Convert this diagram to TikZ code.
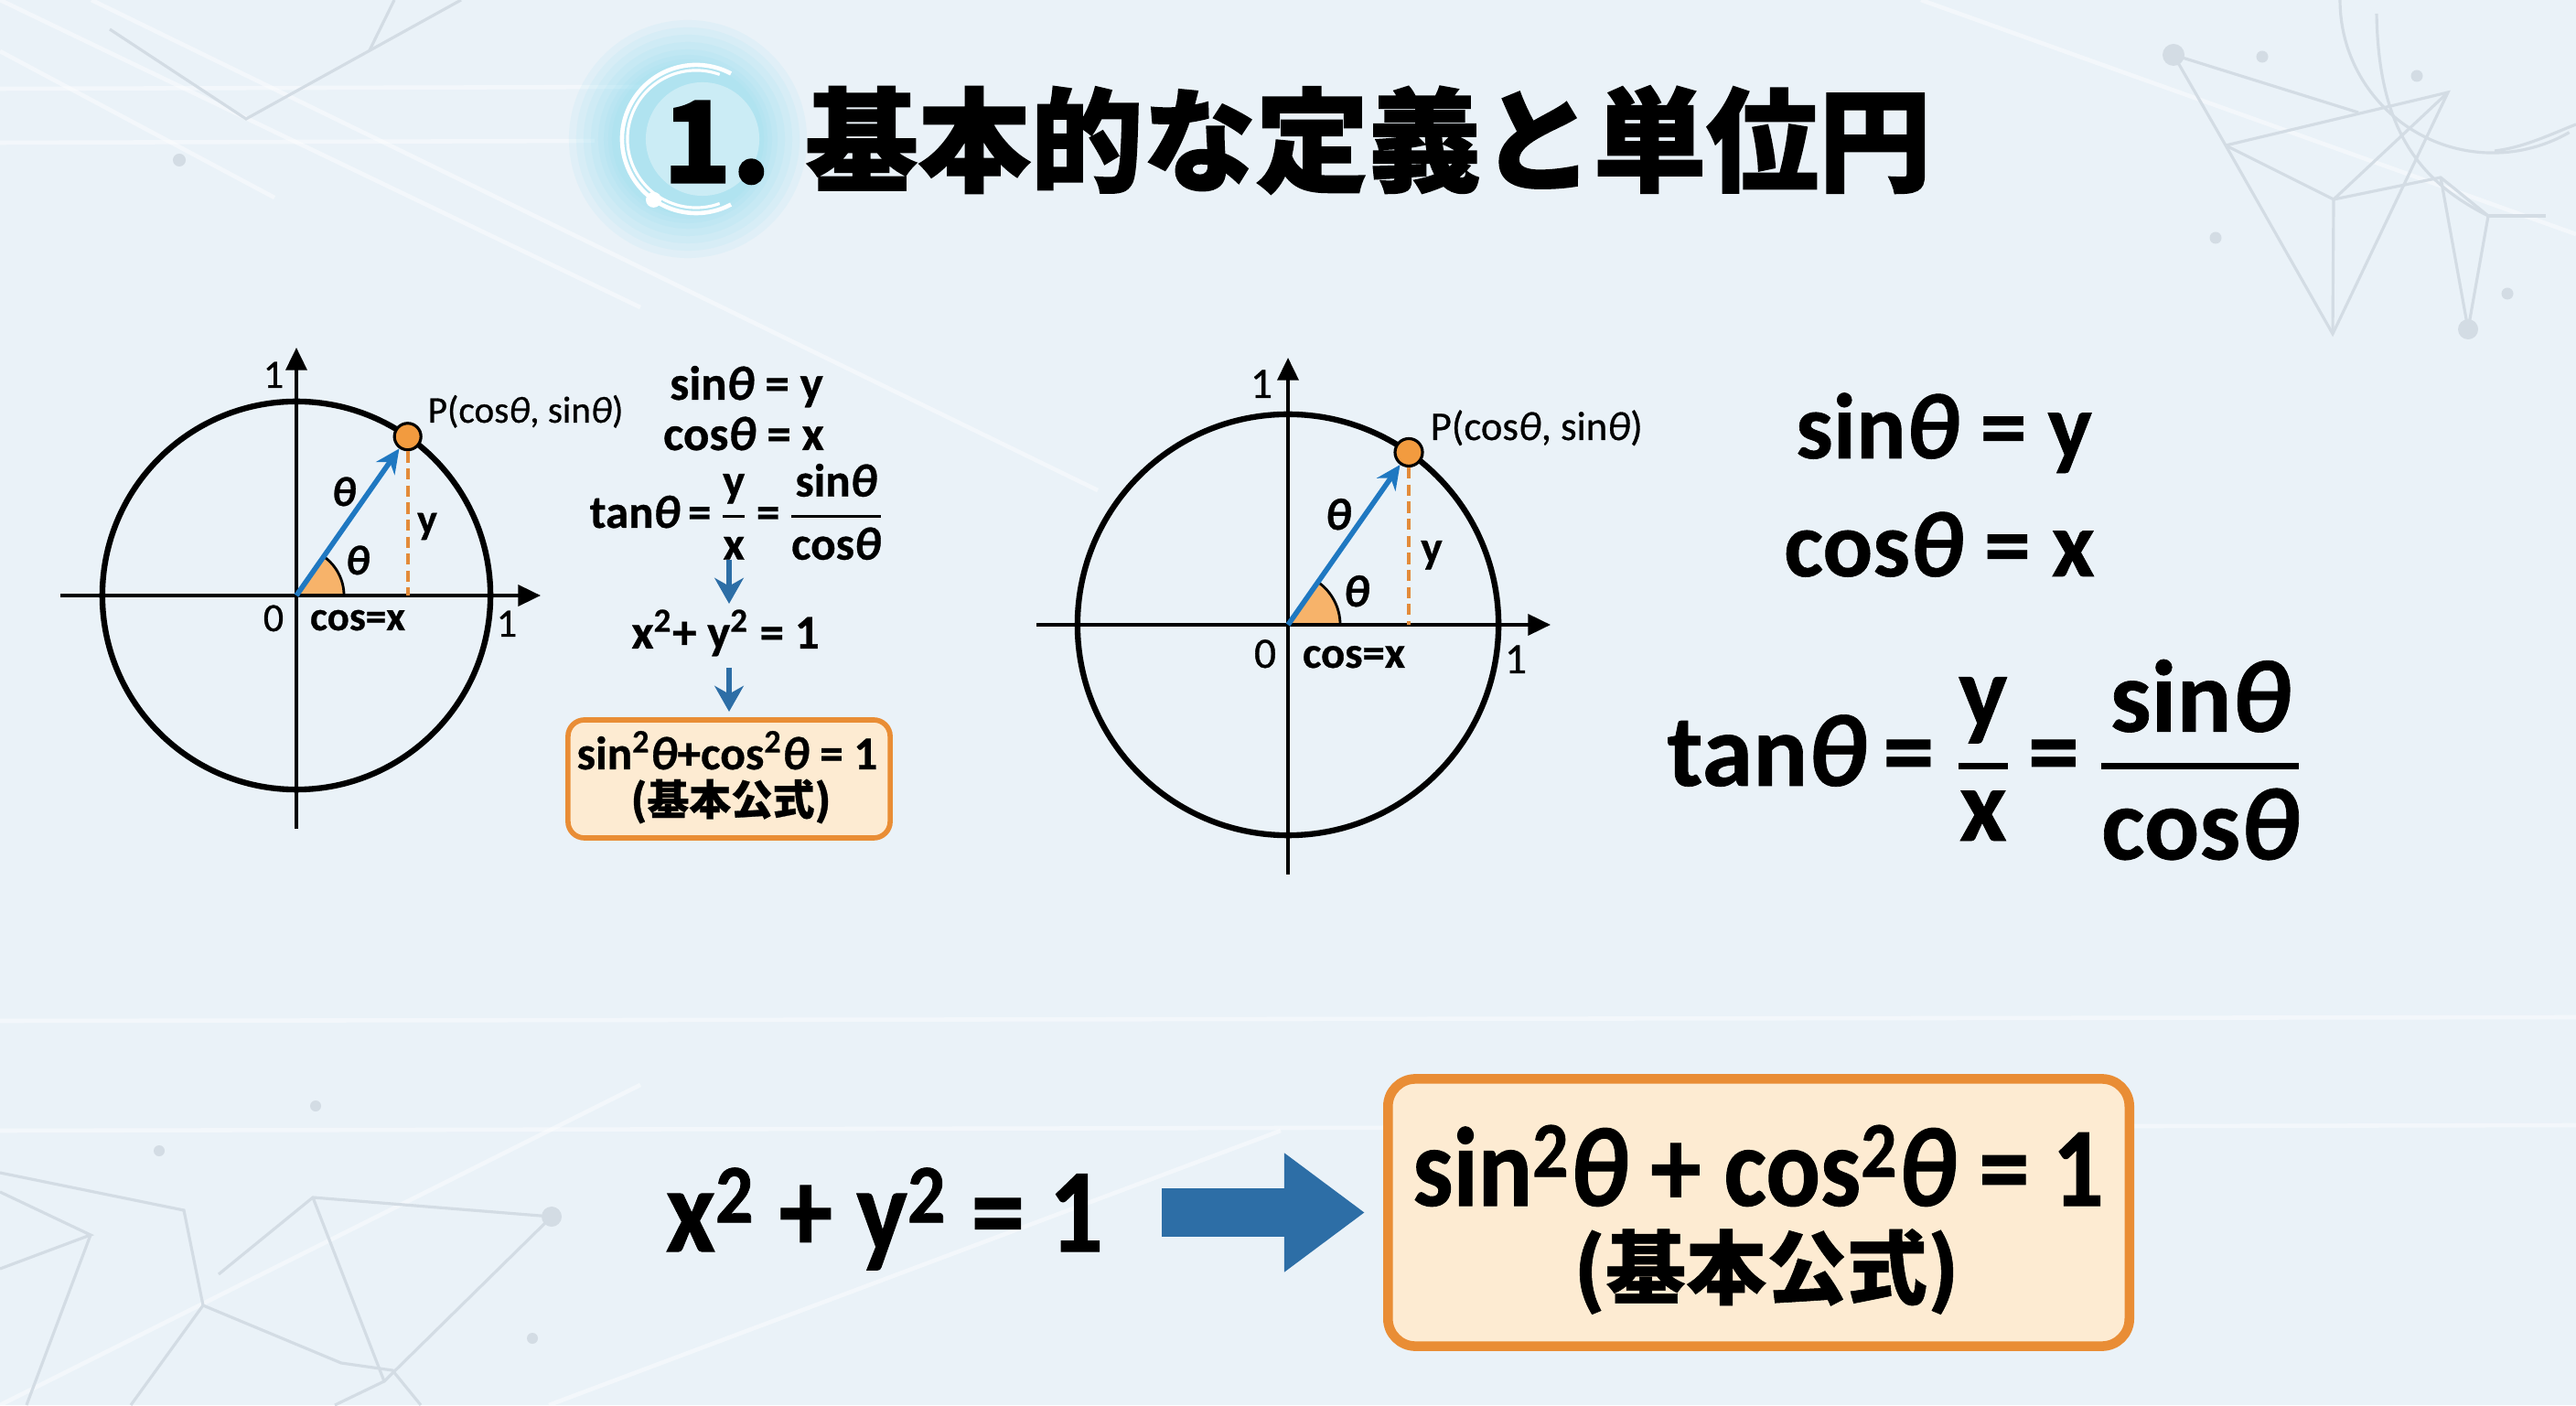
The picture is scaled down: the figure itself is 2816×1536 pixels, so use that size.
\documentclass[tikz,border=0pt]{standalone}
\usepackage{fontspec}
\setmainfont{Carlito}[BoldFeatures={FakeBold=0.6}, BoldItalicFeatures={FakeBold=0.6}]
\newfontfamily\cond{Carlito}[FakeStretch=0.9, BoldFeatures={FakeBold=0.8}, BoldItalicFeatures={FakeBold=0.8}]
\newfontfamily\semib{Carlito}[UprightFeatures={FakeBold=0.7}, ItalicFeatures={FakeBold=0.7}]
\newfontfamily\jp{Noto Sans CJK JP}[BoldFeatures={FakeBold=0.6}]
\newfontfamily\jpt{Noto Sans CJK JP}[BoldFeatures={FakeBold=1.4}]
\usetikzlibrary{arrows.meta}
\definecolor{bgc}{HTML}{EAF2F8}
\definecolor{deco}{HTML}{D3DCE4}
\definecolor{vecblue}{HTML}{1F78C1}
\definecolor{arrblue}{HTML}{2D6EA6}
\definecolor{dotor}{HTML}{F29B3F}
\definecolor{wedgeor}{HTML}{F7B36A}
\definecolor{dashor}{HTML}{E38B3A}
\definecolor{boxfill}{HTML}{FDEBD2}
\definecolor{boxdraw}{HTML}{E98D35}
\definecolor{glowc}{HTML}{8FDDF0}
\newcommand\tht{\textit{θ}}
\newcommand\sq{\textsuperscript{2}}
\newcommand\ffrac[3]{$\displaystyle{\hbox{#2}\above#1\hbox{#3}}$}
\tikzset{
  axis/.style={line width=1.1pt, -{Triangle[length=7pt,width=6.5pt]}},
  ucirc/.style={line width=1.8pt},
  vec/.style={vecblue, line width=1.6pt, -{Stealth[length=7.5pt,width=7pt]}},
  pdot/.style={circle, draw=black, line width=0.9pt, fill=dotor, inner sep=0pt, minimum size=0.29cm},
  dsh/.style={dashor, line width=1.1pt, dash pattern=on 3.5pt off 1.8pt},
  wedgefill/.style={fill=wedgeor},
  lab/.style={inner sep=0pt, anchor=base},
  sform/.style={font=\bfseries\fontsize{15}{18}\selectfont, inner sep=0pt, anchor=base},
  bform/.style={font=\bfseries\fontsize{29}{34}\selectfont, inner sep=0pt, anchor=base},
  downarr/.style={arrblue, line width=1.8pt, -{Stealth[length=8pt,width=9pt,inset=2.5pt]}},
  bigarr/.style={arrblue, line width=0.53cm, -{Triangle[length=0.88cm,width=1.24cm]}},
  sbox/.style={draw=boxdraw, fill=boxfill, line width=1.6pt, rounded corners=0.18cm, minimum width=3.52cm, minimum height=1.29cm, inner sep=0pt},
  bbox/.style={draw=boxdraw, fill=boxfill, line width=3pt, rounded corners=0.3cm, minimum width=8.1cm, minimum height=2.92cm, inner sep=0pt},
  decol/.style={deco, line width=0.9pt},
  decod/.style={fill=deco},
  streak/.style={white, opacity=0.45, line width=1.3pt}
}
\begin{document}
\begin{tikzpicture}[x=0.01cm,y=0.01cm]
\useasboundingbox (0,0) rectangle (2816,1536);
\fill[bgc] (0,0) rectangle (2816,1536);
% faint streaks
\draw[streak] (0,1439) -- (700,1441);
\draw[streak] (0,1380) -- (650,1382);
\draw[streak] (0,300) -- (2816,306);
\draw[streak] (0,420) -- (2816,424);
\draw[streak] (0,1536) -- (700,1200);
\draw[streak] (100,1536) -- (1200,1000);
\draw[streak] (2100,1536) -- (2816,1280);
\draw[streak] (0,1480) -- (300,1320);
\draw[streak] (0,0) -- (700,350);
\draw[streak] (600,0) -- (1400,300);
% top-left deco
\draw[decol] (120,1504) -- (269,1406) -- (504,1536);
\draw[decol] (404,1481) -- (431,1536);
\fill[decod] (196,1361) circle[radius=0.07cm];
% top-right deco
\draw[decol] (2376,1476) -- (2433,1377) -- (2550,1171) -- (2676,1435) -- (2433,1377);
\draw[decol] (2376,1476) -- (2578,1413);
\draw[decol] (2433,1377) -- (2551,1318) -- (2676,1435);
\draw[decol] (2551,1318) -- (2668,1342) -- (2720,1300) -- (2698,1176) -- (2668,1342);
\draw[decol] (2551,1318) -- (2550,1171);
\draw[decol] (2720,1300) -- (2783,1300);
\draw[decol] (2558,1536) arc[start angle=180, end angle=300, radius=1.67cm];
\draw[decol] (2598,1521) .. controls (2600,1400) and (2640,1340) .. (2720,1300);
\draw[decol] (2727,1371) .. controls (2760,1375) and (2790,1390) .. (2816,1400);
\fill[decod] (2376,1476) circle[radius=0.12cm];
\fill[decod] (2698,1176) circle[radius=0.11cm];
\fill[decod] (2473,1474) circle[radius=0.065cm];
\fill[decod] (2642,1453) circle[radius=0.065cm];
\fill[decod] (2422,1276) circle[radius=0.065cm];
\fill[decod] (2741,1215) circle[radius=0.065cm];
% bottom-left deco
\draw[decol] (0,254) -- (201,213) -- (222,109) -- (373,46) -- (429,38) -- (460,0);
\draw[decol] (0,233) -- (99,186) -- (0,149);
\draw[decol] (99,186) -- (29,0);
\draw[decol] (222,109) -- (143,0);
\draw[decol] (239,143) -- (342,227) -- (603,206) -- (420,26) -- (366,0);
\draw[decol] (342,227) -- (420,26);
\fill[decod] (603,206) circle[radius=0.11cm];
\fill[decod] (345,327) circle[radius=0.06cm];
\fill[decod] (174,278) circle[radius=0.06cm];
\fill[decod] (582,73) circle[radius=0.06cm];
% title glow
\foreach \r in {1.30,1.22,1.14,1.06,0.98,0.92,0.87,0.83}
  \fill[glowc, opacity=0.11] (752,1384) circle[radius=\r cm];
\fill[white, opacity=0.35] (768,1384) circle[radius=0.62cm];
\draw[white, line width=1.3pt] (761,1384) ++(62:0.81cm) arc[start angle=62, end angle=298, radius=0.81cm];
\draw[white, line width=0.9pt] (761,1384) ++(70:0.75cm) arc[start angle=70, end angle=290, radius=0.75cm];
\fill[white] (761,1384) ++(235:0.81cm) circle[radius=0.085cm];
\node[font=\jpt\bfseries\fontsize{35}{40}\selectfont, inner sep=0pt] (title) at (1418,1383) {1. 基本的な定義と単位円};

% ===== left unit circle =====
\coordinate (O1) at (324,885);
\path (O1) ++(55:2.12cm) coordinate (P1);
\coordinate (F1) at (P1 |- O1);
\fill[wedgefill] (O1) -- ++(0:0.52cm) arc[start angle=0, end angle=55, radius=0.52cm] -- cycle;
\draw[line width=0.8pt] (O1) ++(0:0.52cm) arc[start angle=0, end angle=55, radius=0.52cm];
\coordinate (ax1l) at (66,885);
\coordinate (ax1r) at (591,885);
\coordinate (ax1b) at (324,630);
\coordinate (ax1t) at (324,1156);
\draw[axis] (ax1l) -- (ax1r);
\draw[axis] (ax1b) -- (ax1t);
\draw[ucirc] (O1) circle[radius=2.12cm];
\node[pdot] (dot1) at (P1) {};
\draw[dsh] (dot1.south) -- (F1);
\draw[vec] (O1) -- (dot1);
\node[lab, font=\semib\fontsize{12.5}{14}\selectfont] (l1one) at (299,1112) {1};
\node[lab, font=\semib\fontsize{12.5}{14}\selectfont] (l1onex) at (554,840) {1};
\node[lab, font=\semib\fontsize{12.5}{14}\selectfont] (l1zero) at (299,846) {0};
\node[lab, font=\bfseries\fontsize{12.8}{14}\selectfont] (l1cos) at (391,847) {cos=x};
\node[lab, anchor=base west, font=\semib\fontsize{11.7}{14}\selectfont] (l1P) at (467,1074) {P(cos\tht, sin\tht)};
\node[lab, font=\bfseries\fontsize{13}{14}\selectfont] (l1tha) at (376,983) {\tht};
\node[lab, font=\bfseries\fontsize{13}{14}\selectfont] (l1thb) at (391,908) {\tht};
\node[lab, font=\bfseries\fontsize{13}{14}\selectfont] (l1y) at (467,953) {y};

% ===== left formulas =====
\node[sform] (ls) at (816,1099) {sin\tht\ = y};
\node[sform] (lc) at (813,1044) {cos\tht\ = x};
\node[sform, font=\bfseries\fontsize{14.5}{17}\selectfont] (lt) at (806,959) {tan\tht\,=\,\ffrac{0.9pt}{y}{x}\,=\,\ffrac{0.9pt}{sin\tht}{cos\tht}};
\node[sform] (lxy) at (793,827) {x\sq+ y\sq\ = 1};
\coordinate (d1a) at (797,924);
\coordinate (d1b) at (797,876);
\coordinate (d2a) at (797,806);
\coordinate (d2b) at (797,758);
\draw[downarr] (d1a) -- (d1b);
\draw[downarr] (d2a) -- (d2b);
\node[sbox] (lbox) at (797,684.5) {};
\node[sform, font=\bfseries\fontsize{14.6}{17}\selectfont] (lbox1) at (795,695) {sin\sq\tht+cos\sq\tht\ = 1};
\node[font=\jp\bfseries\fontsize{13}{15}\selectfont, inner sep=0pt] (lbox2) at (799,660) {(基本公式)};

% ===== middle unit circle =====
\coordinate (O2) at (1408,853);
\path (O2) ++(55:2.3cm) coordinate (P2);
\coordinate (F2) at (P2 |- O2);
\fill[wedgefill] (O2) -- ++(0:0.57cm) arc[start angle=0, end angle=55, radius=0.57cm] -- cycle;
\draw[line width=0.8pt] (O2) ++(0:0.57cm) arc[start angle=0, end angle=55, radius=0.57cm];
\coordinate (ax2l) at (1133,853);
\coordinate (ax2r) at (1695,853);
\coordinate (ax2b) at (1408,580);
\coordinate (ax2t) at (1408,1145);
\draw[axis] (ax2l) -- (ax2r);
\draw[axis] (ax2b) -- (ax2t);
\draw[ucirc] (O2) circle[radius=2.3cm];
\node[pdot, minimum size=0.3cm] (dot2) at (P2) {};
\draw[dsh] (dot2.south) -- (F2);
\draw[vec] (O2) -- (dot2);
\node[lab, font=\semib\fontsize{13.5}{15}\selectfont] (l2one) at (1379,1101) {1};
\node[lab, font=\semib\fontsize{13.5}{15}\selectfont] (l2onex) at (1657,800) {1};
\node[lab, font=\semib\fontsize{13.5}{15}\selectfont] (l2zero) at (1383,806) {0};
\node[lab, font=\bfseries\fontsize{13.8}{15}\selectfont] (l2cos) at (1480,806) {cos=x};
\node[lab, anchor=base west, font=\semib\fontsize{12.7}{15}\selectfont] (l2P) at (1563,1055) {P(cos\tht, sin\tht)};
\node[lab, font=\bfseries\fontsize{14}{15}\selectfont] (l2tha) at (1463,957) {\tht};
\node[lab, font=\bfseries\fontsize{14}{15}\selectfont] (l2thb) at (1483,873) {\tht};
\node[lab, font=\bfseries\fontsize{14}{15}\selectfont] (l2y) at (1565,921) {y};

% ===== right formulas =====
\node[bform] (rs) at (2125,1035) {sin\tht\ = y};
\node[bform] (rc) at (2120,906) {cos\tht\ = x};
\node[bform, font=\bfseries\fontsize{32}{38}\selectfont] (rt) at (2170,677) {tan\tht\kern0.16em=\kern0.2em\ffrac{2pt}{y}{x}\kern0.16em=\kern0.18em\ffrac{2pt}{sin\tht}{cos\tht}};

% ===== bottom =====
\node[font=\cond\bfseries\fontsize{37}{42}\selectfont, inner sep=0pt, anchor=base] (bxy) at (967,168) {x\sq\ + y\sq\ = 1};
\node[bbox] (bbox) at (1922.5,210.5) {};
\coordinate (ba1) at (1270,210.5);
\coordinate (ba2) at (1492,210.5);
\draw[bigarr] (ba1) -- (ba2);
\node[font=\cond\bfseries\fontsize{35}{40}\selectfont, inner sep=0pt, anchor=base] (bb1) at (1922,218) {sin\sq\tht\ + cos\sq\tht\ = 1};
\node[font=\jp\bfseries\fontsize{25}{28}\selectfont, inner sep=0pt] (bb2) at (1931,146) {(基本公式)};
\end{tikzpicture}
\end{document}
